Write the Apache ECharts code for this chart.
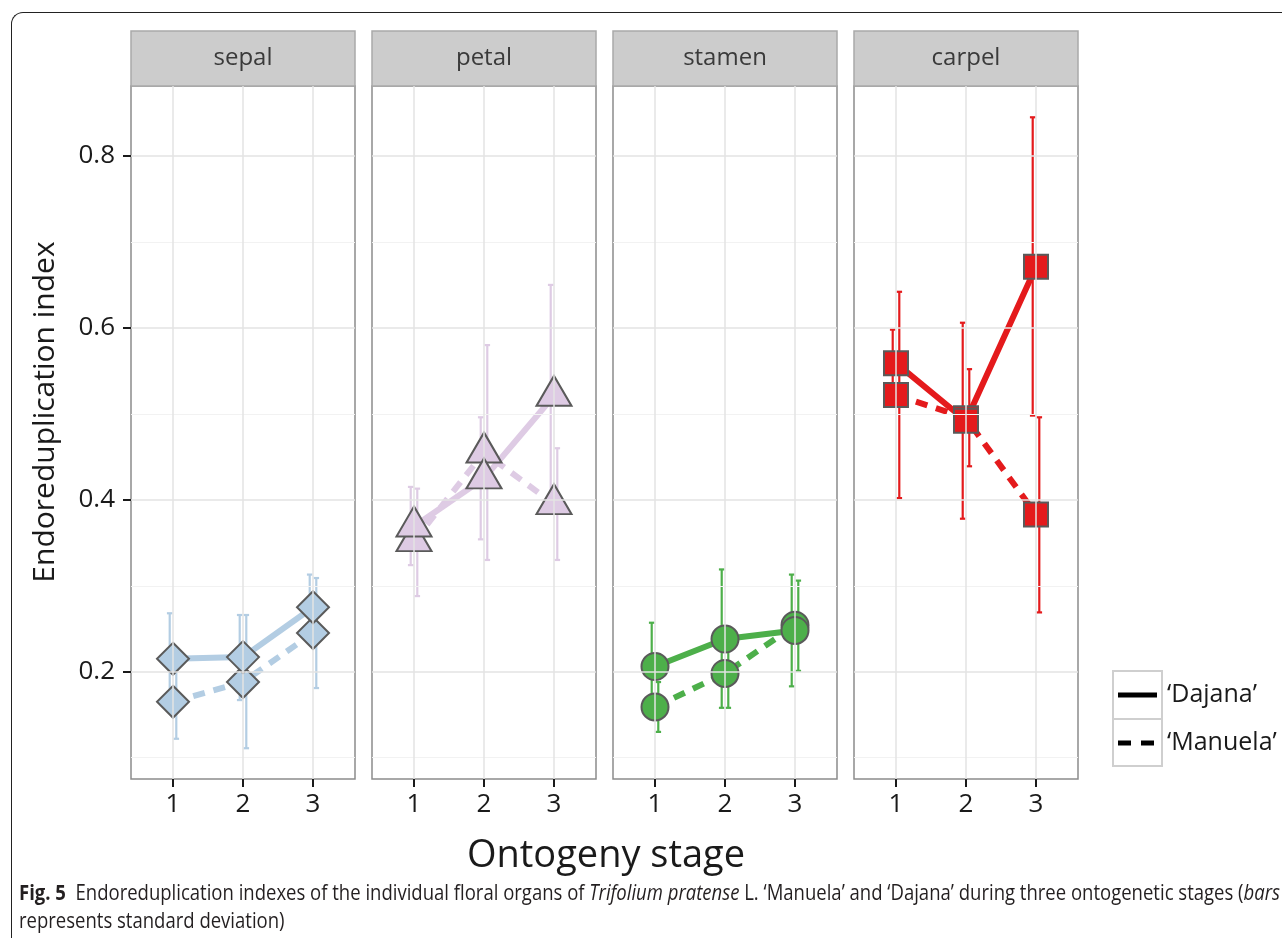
<!DOCTYPE html>
<html lang="en">
<head>
<meta charset="UTF-8">
<title>Endoreduplication index by floral organ</title>
<script src="https://cdn.jsdelivr.net/npm/echarts@6/dist/echarts.min.js"></script>
<style>
    body { margin: 0; background: #fff; }
    #wrap { position: relative; width: 1282px; height: 938px; overflow: hidden; background: #fff; }
    #chart { position: absolute; left: 0; top: 0; width: 1282px; height: 938px; }
    #frame { position: absolute; left: 11px; top: 12px; width: 1400px; height: 1000px;
             border-top: 1.5px solid #222; border-left: 1.5px solid #222; border-top-left-radius: 12px;
             pointer-events: none; }
    #caption { position: absolute; left: 19px; top: 878px; font-family: 'Open Sans', sans-serif;
               font-size: 21px; line-height: 28px; color: #231f20; white-space: nowrap;
               transform-origin: left top; }
    #caption b { font-weight: 700; }
</style>
</head>
<body>
<div id="wrap">
    <div id="chart"></div>
    <div id="frame"></div>
    <div id="caption"><span id="line1"><b>Fig. 5</b>&nbsp; Endoreduplication indexes of the individual floral organs of <i>Trifolium pratense</i> L. ‘Manuela’ and ‘Dajana’ during three ontogenetic stages (<i>bars</i></span><br>represents standard deviation)</div>
</div>

<script>
    // data
    var stages = [1, 2, 3];
    var organs = ['sepal', 'petal', 'stamen', 'carpel'];
    var yTicks = [0.2, 0.4, 0.6, 0.8];
    var yMinorTicks = [0.1, 0.3, 0.5, 0.7];

    // means, one row per organ (sepal, petal, stamen, carpel)
    var dajanaMean = [
        [0.215, 0.217, 0.275],
        [0.369, 0.425, 0.521],
        [0.206, 0.238, 0.248],
        [0.559, 0.492, 0.671]
    ];
    var manuelaMean = [
        [0.165, 0.188, 0.245],
        [0.352, 0.455, 0.395],
        [0.159, 0.198, 0.254],
        [0.522, 0.495, 0.383]
    ];
    // error bar ends (mean - sd, mean + sd)
    var dajanaLow = [
        [0.162, 0.167, 0.237],
        [0.324, 0.354, 0.392],
        [0.155, 0.158, 0.183],
        [0.520, 0.378, 0.498]
    ];
    var dajanaHigh = [
        [0.268, 0.266, 0.313],
        [0.415, 0.496, 0.650],
        [0.257, 0.319, 0.313],
        [0.598, 0.606, 0.845]
    ];
    var manuelaLow = [
        [0.122, 0.111, 0.181],
        [0.288, 0.330, 0.330],
        [0.130, 0.158, 0.201],
        [0.402, 0.439, 0.269]
    ];
    var manuelaHigh = [
        [0.208, 0.266, 0.309],
        [0.413, 0.580, 0.460],
        [0.188, 0.238, 0.306],
        [0.642, 0.552, 0.496]
    ];

    var organColors = ['#b3cde3', '#decbe4', '#4daf4a', '#e41a1c'];
    var organSymbols = ['diamond', 'triangle', 'circle', 'rect'];
    var symbolSizes = [32, [35, 30], 27, 24];
    var symbolOffsets = [[0, 0], [0, -5], [0, 0], [0, 0]];

    var FONT = "'Open Sans', sans-serif";
    var panelLeft = [131, 372, 613, 854];
    var panelWidth = 224;
    var panelTop = 86;
    var panelHeight = 693;
    var dodge = 0.047;
    var capHalf = 0.04;

    function errorBar(params, api) {
        var x = api.value(0);
        var top = api.coord([x, api.value(2)]);
        var bot = api.coord([x, api.value(1)]);
        var l = api.coord([x - capHalf, 0])[0];
        var r = api.coord([x + capHalf, 0])[0];
        var st = { stroke: api.visual('color'), lineWidth: 2.2 };
        return {
            type: 'group',
            children: [
                { type: 'line', shape: { x1: top[0], y1: top[1], x2: bot[0], y2: bot[1] }, style: st },
                { type: 'line', shape: { x1: l, y1: top[1], x2: r, y2: top[1] }, style: st },
                { type: 'line', shape: { x1: l, y1: bot[1], x2: r, y2: bot[1] }, style: st }
            ]
        };
    }

    var grids = [], xAxes = [], yAxes = [], series = [], graphics = [];

    organs.forEach(function (organ, i) {
        grids.push({
            left: panelLeft[i], top: panelTop, width: panelWidth, height: panelHeight,
            show: true, backgroundColor: '#fff', borderColor: '#8c8c8c', borderWidth: 1.5
        });
        xAxes.push({
            gridIndex: i, type: 'value', min: 0.4, max: 3.6,
            axisLine: { show: false },
            axisTick: { customValues: stages, length: 8, lineStyle: { color: '#1a1a1a', width: 2 } },
            axisLabel: { customValues: stages, fontSize: 26, color: '#1a1a1a', margin: 13, fontFamily: FONT },
            splitLine: { show: false }
        });
        yAxes.push({
            gridIndex: i, type: 'value', min: 0.0752, max: 0.8814,
            axisLine: { show: false },
            axisTick: { show: i === 0, customValues: yTicks, length: 8, lineStyle: { color: '#1a1a1a', width: 2 } },
            axisLabel: {
                show: i === 0, customValues: yTicks, fontSize: 26, color: '#1a1a1a', margin: 16, fontFamily: FONT,
                formatter: function (v) { return v.toFixed(1); }
            },
            splitLine: { show: false }
        });

        // background grid lines
        var gl = [];
        yMinorTicks.forEach(function (v) { gl.push({ yAxis: v, lineStyle: { color: '#f2f2f2', width: 1.2, type: 'solid' } }); });
        yTicks.forEach(function (v) { gl.push({ yAxis: v, lineStyle: { color: '#e3e3e3', width: 1.5, type: 'solid' } }); });
        stages.forEach(function (v) { gl.push({ xAxis: v, lineStyle: { color: '#e3e3e3', width: 1.5, type: 'solid' } }); });
        series.push({
            type: 'line', xAxisIndex: i, yAxisIndex: i, data: [], silent: true, z: 1,
            markLine: { silent: true, symbol: 'none', label: { show: false }, animation: false, data: gl }
        });

        var col = organColors[i];
        var varieties = [
            { name: 'Manuela', mean: manuelaMean[i], lo: manuelaLow[i], hi: manuelaHigh[i], off: dodge, dash: [12, 9] },
            { name: 'Dajana', mean: dajanaMean[i], lo: dajanaLow[i], hi: dajanaHigh[i], off: -dodge, dash: 'solid' }
        ];

        varieties.forEach(function (v) {
            series.push({
                name: v.name + ' sd', type: 'custom', xAxisIndex: i, yAxisIndex: i, z: 2,
                itemStyle: { color: col }, renderItem: errorBar, animation: false,
                data: stages.map(function (s, k) { return [s + v.off, v.lo[k], v.hi[k]]; })
            });
        });
        varieties.forEach(function (v) {
            series.push({
                name: v.name, type: 'line', xAxisIndex: i, yAxisIndex: i, z: 3,
                showSymbol: false, animation: false,
                lineStyle: { color: col, width: 6, type: v.dash, cap: 'butt' },
                data: stages.map(function (s, k) { return [s, v.mean[k]]; })
            });
        });
        varieties.forEach(function (v) {
            series.push({
                name: v.name + ' pts', type: 'scatter', xAxisIndex: i, yAxisIndex: i, z: 4,
                symbol: organSymbols[i], symbolSize: symbolSizes[i], symbolOffset: symbolOffsets[i],
                itemStyle: { color: col, borderColor: '#5a5a5a', borderWidth: 2, opacity: 1 },
                animation: false,
                data: stages.map(function (s, k) { return [s, v.mean[k]]; })
            });
        });

        // facet strip
        graphics.push({
            type: 'rect', shape: { x: panelLeft[i], y: 31, width: panelWidth, height: 55 },
            style: { fill: '#cccccc', stroke: '#a9a9a9', lineWidth: 1.5 }
        });
        graphics.push({
            type: 'text', x: panelLeft[i] + panelWidth / 2, y: 58.5,
            style: { text: organ, font: '24px ' + FONT, fill: '#3a3a3a', align: 'center', verticalAlign: 'middle' }
        });
    });

    // axis titles
    graphics.push({
        type: 'text', x: 606, y: 856,
        style: { text: 'Ontogeny stage', font: '38px ' + FONT, fill: '#1a1a1a', align: 'center', verticalAlign: 'middle' }
    });
    graphics.push({
        type: 'text', x: 45, y: 412, rotation: Math.PI / 2,
        style: { text: 'Endoreduplication index', font: '30px ' + FONT, fill: '#1a1a1a', align: 'center', verticalAlign: 'middle' }
    });

    // legend
    graphics.push({ type: 'rect', shape: { x: 1113, y: 671, width: 49, height: 48 }, style: { fill: '#fff', stroke: '#cfcfcf', lineWidth: 2 } });
    graphics.push({ type: 'rect', shape: { x: 1113, y: 719, width: 49, height: 47 }, style: { fill: '#fff', stroke: '#cfcfcf', lineWidth: 2 } });
    graphics.push({ type: 'line', shape: { x1: 1118, y1: 695, x2: 1157, y2: 695 }, style: { stroke: '#000', lineWidth: 5 } });
    graphics.push({ type: 'line', shape: { x1: 1118, y1: 743, x2: 1157, y2: 743 }, style: { stroke: '#000', lineWidth: 5, lineDash: [13, 10] } });
    graphics.push({ type: 'text', x: 1167, y: 695, style: { text: '‘Dajana’', font: '25px ' + FONT, fill: '#1a1a1a', verticalAlign: 'middle' } });
    graphics.push({ type: 'text', x: 1167, y: 743, style: { text: '‘Manuela’', font: '25px ' + FONT, fill: '#1a1a1a', verticalAlign: 'middle' } });

    var myChart = echarts.init(document.getElementById('chart'), null, { renderer: 'canvas' });
    myChart.setOption({
        animation: false,
        grid: grids,
        xAxis: xAxes,
        yAxis: yAxes,
        series: series,
        graphic: graphics
    });

    // squeeze the caption so the first line fits like the condensed journal font
    var cap = document.getElementById('caption');
    var w = document.getElementById('line1').getBoundingClientRect().width;
    cap.style.transform = 'scaleX(' + (1261 / w) + ')';
</script>
</body>
</html>
